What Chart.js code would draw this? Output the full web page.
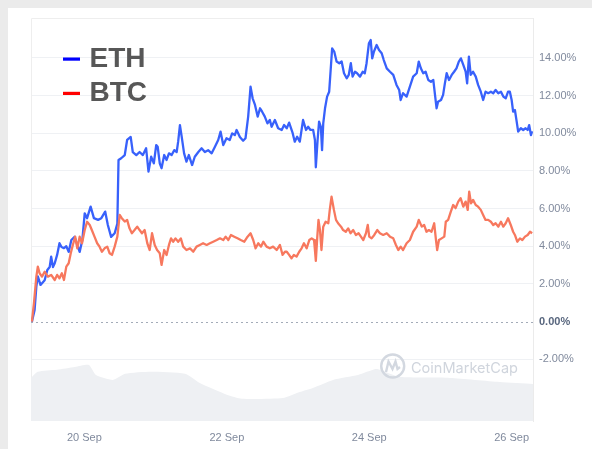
<!DOCTYPE html>
<html>
<head>
<meta charset="utf-8">
<script src="https://cdn.jsdelivr.net/npm/chart.js@4/dist/chart.umd.min.js"></script>
<style>
  html, body { margin: 0; padding: 0; background: #ebebeb; }
  canvas { display: block; }
</style>
</head>
<body>
<canvas id="chart" width="592" height="449"></canvas>
<script>
// hours since 19 Sep 00:00, % change
const ethHours = [
    6.3, 7.2, 7.8, 8.3, 9.2, 10.6, 11.5, 12.3, 12.8, 13.4,
    14.0, 14.8, 15.6, 16.2, 17.1, 17.9, 18.7, 19.6, 20.7, 21.6,
    22.4, 23.3, 24.1, 24.9, 26.1, 27.2, 28.6, 29.7, 31.0, 31.9,
    33.0, 34.2, 35.1, 35.5, 36.4, 37.6, 38.4, 39.6, 40.3, 41.5,
    42.6, 43.7, 44.8, 45.6, 46.5, 47.4, 48.2, 48.7, 49.4, 50.0,
    50.9, 51.7, 52.5, 53.4, 54.3, 55.1, 55.6, 56.2, 56.8, 57.6,
    58.4, 59.2, 60.3, 61.2, 62.4, 63.5, 64.6, 65.7, 66.9, 68.0,
    69.1, 69.9, 70.8, 71.9, 73.0, 73.8, 74.7, 75.3, 76.4, 77.5,
    78.3, 79.2, 80.0, 80.7, 81.5, 82.4, 83.2, 83.9, 84.8, 85.7,
    86.5, 87.1, 88.2, 89.3, 90.5, 91.3, 92.2, 93.0, 94.2, 94.9,
    95.7, 96.6, 97.7, 98.7, 99.4, 100.2, 101.1, 101.7, 102.0, 102.6,
    103.1, 103.7, 104.1, 104.5, 105.1, 105.8, 106.5, 107.0, 107.5, 108.2,
    109.0, 109.9, 110.7, 111.5, 112.4, 113.1, 113.8, 114.4, 115.2, 115.9,
    116.9, 117.8, 118.5, 119.1, 119.9, 120.5, 121.0, 121.6, 122.5, 123.3,
    124.2, 124.9, 125.9, 127.0, 128.1, 129.2, 130.1, 130.6, 131.4, 132.6,
    133.7, 134.8, 136.0, 136.7, 137.4, 138.2, 139.0, 139.9, 140.8, 141.6,
    142.1, 142.7, 143.2, 144.2, 144.9, 145.5, 146.1, 146.9, 147.8, 148.6,
    149.4, 150.2, 150.9, 151.7, 152.5, 153.0, 153.6, 154.2, 155.0, 155.9,
    156.7, 157.6, 158.4, 159.2, 160.1, 161.0, 161.8, 162.6, 163.5, 164.4,
    165.2, 166.0, 166.8, 167.4, 168.0, 168.5, 169.1, 169.7, 170.2, 171.1,
    171.9, 172.7, 173.4, 173.9, 174.5, 174.9
];
const ethValues = [
    0, 0.6, 1.86, 2.4, 1.95, 2.2, 2.74, 2.9, 3.45, 2.9,
    3.1, 3.54, 4.16, 3.98, 3.9, 4.0, 3.7, 4.33, 4.5, 4.07,
    3.7, 4.33, 5.75, 5.49, 6.1, 5.49, 5.4, 5.49, 5.84, 5.13,
    4.5, 4.69, 5.2, 8.58, 8.67, 8.84, 9.64, 9.8, 9.0, 8.84,
    9.0, 8.84, 9.2, 7.96, 8.75, 8.4, 9.37, 9.28, 8.4, 8.14,
    8.84, 8.58, 8.93, 8.84, 9.1, 9.0, 9.55, 10.43, 9.8, 8.93,
    8.49, 8.84, 8.31, 8.75, 9.0, 9.2, 9.0, 9.1, 8.93, 9.28,
    9.64, 10.08, 9.37, 9.73, 9.64, 9.99, 9.9, 10.17, 9.8, 9.6,
    9.73, 10.88, 12.47, 11.85, 11.5, 10.88, 11.32, 11.14, 10.88, 10.52,
    10.7, 10.34, 10.7, 10.26, 10.17, 10.43, 10.26, 10.56, 10.0, 9.55,
    9.81, 9.55, 10.7, 10.17, 10.34, 10.17, 10.17, 9.64, 8.19, 9.64,
    10.61, 10.34, 9.1, 10.52, 11.32, 11.94, 12.2, 13.35, 14.5, 14.33,
    13.8, 13.71, 13.8, 13.18, 12.91, 13.09, 13.71, 13.0, 13.26, 13.18,
    13.0, 13.26, 13.18, 13.71, 14.77, 14.94, 13.97, 14.33, 14.68, 14.41,
    14.24, 13.88, 13.44, 13.26, 13.09, 12.56, 12.29, 11.76, 12.12, 11.94,
    12.47, 13.0, 13.18, 13.8, 13.44, 13.18, 13.26, 12.82, 12.73, 12.82,
    12.12, 11.32, 11.67, 11.76, 12.03, 12.64, 13.18, 12.82, 13.09, 13.26,
    13.44, 13.8, 13.97, 13.62, 13.26, 12.64, 14.06, 13.09, 13.26, 13.0,
    12.56, 12.2, 11.76, 12.2, 12.12, 12.2, 12.12, 12.29, 12.12, 12.2,
    11.94, 11.85, 12.2, 12.2, 11.76, 11.14, 11.23, 10.61, 10.08, 10.26,
    10.17, 10.26, 10.17, 10.43, 9.9, 10.1
];

const btcHours = [
    6.3, 7.0, 7.8, 8.3, 8.9, 9.7, 10.6, 11.7, 12.8, 14.0,
    14.8, 15.6, 16.4, 17.1, 17.9, 18.7, 19.4, 20.1, 20.9, 21.6,
    22.4, 23.2, 24.1, 24.9, 25.8, 26.5, 27.4, 28.3, 29.1, 29.9,
    30.8, 31.7, 32.5, 33.3, 34.2, 35.1, 35.9, 36.6, 37.6, 38.4,
    39.2, 40.0, 40.9, 41.8, 42.6, 43.4, 44.3, 45.2, 46.0, 46.8,
    47.7, 48.5, 49.4, 50.0, 50.9, 51.7, 52.5, 53.2, 53.9, 54.7,
    55.6, 56.5, 57.3, 58.4, 59.6, 60.7, 61.8, 62.9, 64.0, 65.2,
    66.3, 67.4, 68.6, 69.7, 70.8, 71.6, 72.5, 73.4, 74.5, 75.6,
    76.7, 77.9, 79.0, 80.0, 80.9, 81.7, 82.6, 83.5, 84.3, 85.4,
    86.5, 87.6, 88.8, 89.9, 90.8, 91.6, 92.2, 93.0, 93.8, 94.6,
    95.5, 96.4, 97.2, 98.0, 98.9, 99.8, 100.6, 101.4, 101.7, 102.0,
    102.5, 102.9, 103.4, 103.9, 104.5, 105.3, 106.2, 106.7, 107.3, 108.1,
    108.8, 109.5, 110.5, 111.2, 112.1, 112.9, 113.7, 114.6, 115.5, 116.4,
    117.2, 118.0, 118.9, 119.5, 120.0, 120.8, 121.7, 122.7, 123.6, 124.7,
    125.9, 127.0, 128.1, 129.0, 129.8, 130.6, 131.4, 132.6, 133.7, 134.8,
    136.0, 136.7, 137.7, 138.5, 139.3, 140.1, 141.0, 141.9, 142.5, 142.9,
    143.5, 144.4, 145.3, 145.8, 146.6, 147.5, 148.3, 149.1, 150.0, 150.8,
    151.7, 152.5, 153.2, 153.7, 154.3, 155.0, 155.9, 156.7, 157.6, 158.4,
    159.2, 160.1, 161.0, 161.8, 162.6, 163.5, 164.4, 165.2, 166.0, 166.8,
    167.7, 168.5, 169.1, 169.9, 170.8, 171.6, 172.5, 173.4, 174.2, 174.9
];
const btcValues = [
    0, 0.98, 2.39, 2.92, 2.57, 2.39, 2.65, 2.39, 2.48, 2.21,
    2.48, 2.3, 2.57, 2.21, 2.92, 3.1, 3.63, 4.07, 4.51, 3.89,
    4.51, 4.16, 4.86, 5.3, 5.13, 4.86, 4.51, 4.16, 3.98, 3.71,
    3.89, 3.98, 3.63, 3.54, 3.98, 4.51, 5.66, 5.49, 5.31, 5.4,
    4.95, 4.69, 4.86, 5.04, 4.86, 4.69, 4.86, 4.16, 3.8, 4.69,
    4.07, 3.8, 3.63, 3.01, 3.8, 3.54, 4.07, 4.42, 4.24, 4.42,
    4.24, 4.42, 3.98, 3.8, 3.89, 3.71, 3.98, 4.07, 4.16, 4.07,
    4.16, 4.24, 4.33, 4.42, 4.33, 4.51, 4.33, 4.6, 4.51, 4.42,
    4.33, 4.24, 4.51, 4.69, 4.33, 3.89, 4.16, 3.98, 4.24, 3.98,
    3.89, 3.98, 3.8, 4.07, 3.54, 3.71, 3.71, 3.54, 3.36, 3.54,
    3.45, 3.71, 3.89, 4.16, 3.89, 4.33, 4.42, 4.33, 3.8, 3.22,
    4.51, 5.4, 4.86, 3.8, 5.04, 5.3, 5.22, 5.93, 6.63, 5.93,
    5.4, 5.22, 5.04, 4.86, 4.77, 4.95, 4.69, 4.86, 4.6, 4.69,
    4.51, 4.33, 4.69, 5.13, 4.51, 4.42, 4.6, 4.86, 4.69, 4.6,
    4.69, 4.51, 4.42, 4.07, 3.8, 3.98, 3.8, 4.16, 4.33, 4.77,
    5.04, 5.4, 5.04, 5.13, 4.77, 4.86, 4.77, 5.22, 4.33, 3.8,
    4.33, 4.42, 4.51, 5.3, 5.4, 5.84, 6.19, 6.02, 6.37, 6.55,
    6.1, 6.37, 5.93, 6.9, 6.28, 6.46, 6.19, 6.1, 5.93, 5.66,
    5.4, 5.4, 5.3, 5.13, 5.22, 5.04, 5.3, 5.04, 5.22, 5.49,
    5.13, 4.77, 4.6, 4.24, 4.42, 4.33, 4.51, 4.6, 4.77, 4.69
];

// volume backdrop (relative units)
const volHours = [6.0, 8.3, 14.7, 20.8, 25.5, 27.9, 33.6, 37.7, 46.4, 57.9, 62.9, 72.0, 77.1, 90.9, 96.6, 101.0, 107.8, 116.2, 119.2, 122.6, 127.0, 130.3, 147.2, 164.0, 175.2];
const volValues = [10.7, 12.2, 12.7, 13.4, 13.9, 11.4, 10.2, 11.7, 12.2, 11.7, 9.4, 6.5, 5.5, 5.7, 7.2, 8.2, 10.2, 11.4, 12.2, 12.9, 11.7, 10.9, 10.7, 9.7, 9.2];

const xTickValues = [24, 72, 120, 168];
const xTickLabels = ['20 Sep', '22 Sep', '24 Sep', '26 Sep'];
const yTickValues = [-2, 0, 2, 4, 6, 8, 10, 12, 14];

const seriesNames = ['ETH', 'BTC'];
const legendColors = ['#0000ff', '#ff0000'];

function toPoints(xs, ys) {
    return xs.map((x, i) => ({ x: x, y: ys[i] }));
}

function isZeroTick(ctx) {
    return !!(ctx && ctx.tick && ctx.tick.value === 0);
}

// 背景と枠
const framePlugin = {
    id: 'frame',
    beforeDraw(chart) {
        const c = chart.ctx;
        c.save();
        c.fillStyle = '#ebebeb';
        c.fillRect(0, 0, chart.width, chart.height);
        c.fillStyle = '#ffffff';
        c.fillRect(8, 8, chart.width - 8, chart.height - 8);
        c.restore();
    },
    beforeDatasetsDraw(chart) {
        const c = chart.ctx;
        const a = chart.chartArea;
        const y0 = chart.scales.y.getPixelForValue(0);
        c.save();
        c.strokeStyle = '#eeeeee';
        c.lineWidth = 1;
        c.beginPath();
        c.moveTo(a.left + 0.5, a.bottom);
        c.lineTo(a.left + 0.5, a.top + 0.5);
        c.lineTo(a.right, a.top + 0.5);
        c.stroke();
        c.strokeStyle = '#a3abb8';
        c.setLineDash([2, 3]);
        c.beginPath();
        c.moveTo(a.left, Math.round(y0) + 0.5);
        c.lineTo(a.right, Math.round(y0) + 0.5);
        c.stroke();
        c.restore();
    },
    afterDatasetsDraw(chart) {
        const c = chart.ctx;
        c.save();
        // watermark
        c.strokeStyle = '#d3d8e0';
        c.lineWidth = 2.4;
        c.beginPath();
        c.arc(392.7, 366, 11.5, 0, Math.PI * 2);
        c.stroke();
        c.beginPath();
        c.moveTo(386, 372);
        c.lineTo(388.5, 361.5);
        c.lineTo(392.5, 369);
        c.lineTo(395.5, 361.5);
        c.lineTo(397.5, 369);
        c.lineTo(400, 367);
        c.stroke();
        c.fillStyle = '#d0d5dd';
        c.font = '17px Inter, "Noto Sans", sans-serif';
        const w = c.measureText('CoinMarketCap').width;
        c.font = (17 * 107 / w).toFixed(2) + 'px Inter, "Noto Sans", sans-serif';
        c.textBaseline = 'alphabetic';
        c.fillText('CoinMarketCap', 411, 372.7);

        // legend
        const baselines = [66.7, 100.5];
        const dashY = [57.5, 91.8];
        c.font = 'bold 28px "Liberation Sans", Arial, sans-serif';
        seriesNames.forEach((name, i) => {
            c.fillStyle = legendColors[i];
            c.fillRect(63, dashY[i], 17, 3.2);
            c.fillStyle = '#575757';
            c.fillText(name, 89.5, baselines[i]);
        });
        c.restore();
    }
};

new Chart(document.getElementById('chart'), {
    type: 'line',
    data: {
        datasets: [
            {
                label: 'BTC',
                data: toPoints(btcHours, btcValues),
                borderColor: '#f7785e',
                borderWidth: 2.3,
                pointRadius: 0,
                tension: 0,
                borderJoinStyle: 'round',
                yAxisID: 'y'
            },
            {
                label: 'ETH',
                data: toPoints(ethHours, ethValues),
                borderColor: '#3861fb',
                borderWidth: 2.3,
                pointRadius: 0,
                tension: 0,
                borderJoinStyle: 'round',
                yAxisID: 'y'
            },
            {
                label: 'Volume',
                data: toPoints(volHours, volValues),
                borderWidth: 0,
                pointRadius: 0,
                backgroundColor: '#eef0f3',
                fill: 'start',
                tension: 0.2,
                yAxisID: 'yv'
            }
        ]
    },
    options: {
        responsive: false,
        animation: false,
        layout: { padding: { left: 31, top: 18, right: 0, bottom: 0 } },
        plugins: {
            legend: { display: false },
            tooltip: { enabled: false }
        },
        scales: {
            x: {
                type: 'linear',
                min: 6,
                max: 175.2,
                grid: { display: false, drawTicks: false },
                border: { display: false },
                afterBuildTicks: (scale) => {
                    scale.ticks = xTickValues.map(v => ({ value: v }));
                },
                afterFit: (scale) => { scale.height = 28; },
                ticks: {
                    padding: 10,
                    maxRotation: 0,
                    autoSkip: false,
                    color: '#808a9d',
                    font: { size: 11, family: '"Liberation Sans", Arial, sans-serif' },
                    callback: (v) => xTickLabels[xTickValues.indexOf(v)]
                }
            },
            y: {
                position: 'right',
                min: -5.27,
                max: 16.11,
                grid: {
                    drawTicks: false,
                    color: (ctx) => isZeroTick(ctx) ? 'rgba(0,0,0,0)' : '#eff1f4'
                },
                border: { display: true, color: '#ebebeb' },
                afterBuildTicks: (scale) => {
                    scale.ticks = yTickValues.map(v => ({ value: v }));
                },
                afterFit: (scale) => { scale.width = 59; },
                ticks: {
                    padding: 6,
                    color: (ctx) => isZeroTick(ctx) ? '#58667e' : '#808a9d',
                    font: (ctx) => ({
                        size: 11,
                        family: '"Liberation Sans", Arial, sans-serif',
                        weight: isZeroTick(ctx) ? 'bold' : 'normal'
                    }),
                    callback: (v) => Number(v).toFixed(2) + '%'
                }
            },
            yv: {
                display: false,
                min: 0,
                max: 100
            }
        }
    },
    plugins: [framePlugin]
});
</script>
</body>
</html>
